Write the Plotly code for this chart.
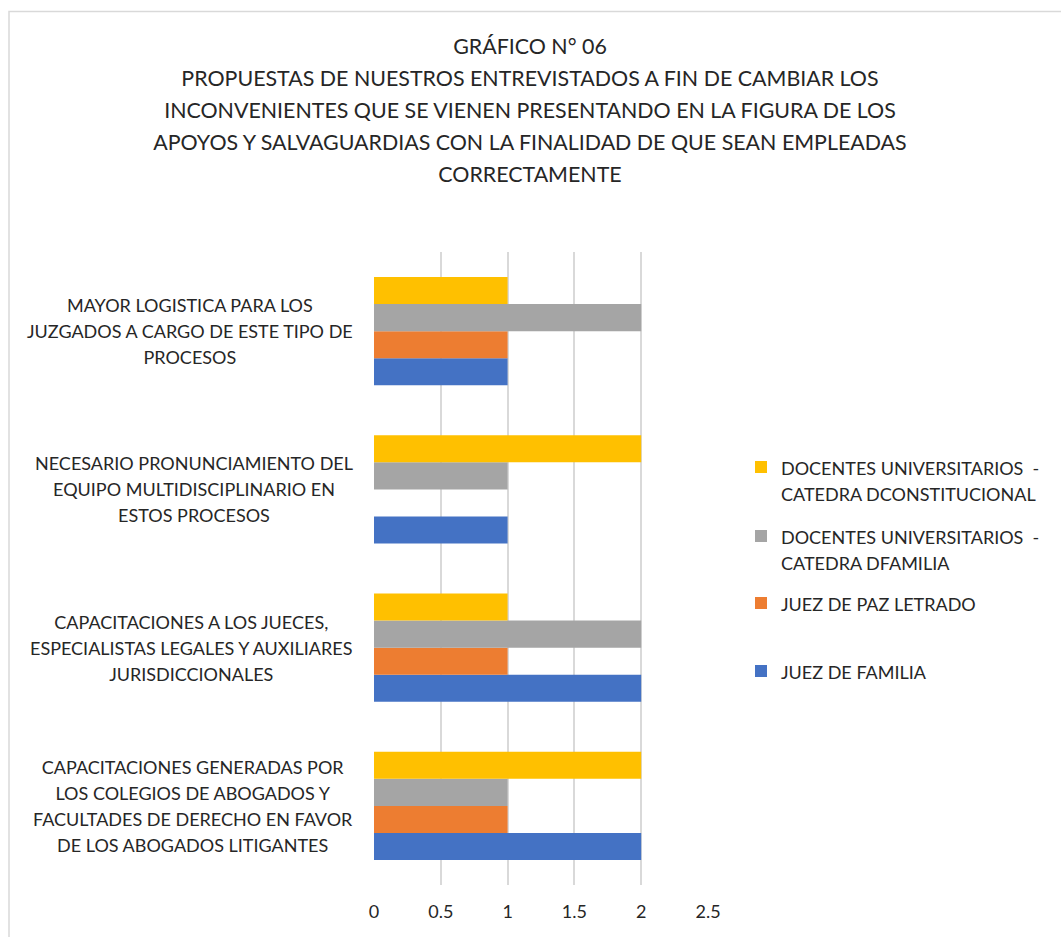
import plotly.graph_objects as go

FONT = "Lato"
TXT = "#262626"

# categories bottom -> top
categories = [
    "CAPACITACIONES GENERADAS POR<br>LOS COLEGIOS DE ABOGADOS Y<br>FACULTADES DE DERECHO EN FAVOR<br>DE LOS ABOGADOS LITIGANTES",
    "CAPACITACIONES A LOS JUECES,<br>ESPECIALISTAS LEGALES Y AUXILIARES<br>JURISDICCIONALES",
    "NECESARIO PRONUNCIAMIENTO DEL<br>EQUIPO MULTIDISCIPLINARIO EN<br>ESTOS PROCESOS",
    "MAYOR LOGISTICA PARA LOS<br>JUZGADOS A CARGO DE ESTE TIPO DE<br>PROCESOS",
]

series_names = [
    "JUEZ DE FAMILIA",
    "JUEZ DE PAZ LETRADO",
    "DOCENTES UNIVERSITARIOS  -<br>CATEDRA DFAMILIA",
    "DOCENTES UNIVERSITARIOS  -<br>CATEDRA DCONSTITUCIONAL",
]
juez_familia = [2, 2, 1, 1]
juez_paz = [1, 1, 0, 1]
docentes_familia = [1, 2, 1, 2]
docentes_constitucional = [2, 1, 2, 1]
series_values = [juez_familia, juez_paz, docentes_familia, docentes_constitucional]
colors = ["#4472C4", "#ED7D31", "#A5A5A5", "#FFC000"]

x_ticks = [0, 0.5, 1, 1.5, 2, 2.5]
x_tick_labels = ["0", "0.5", "1", "1.5", "2", "2.5"]

title_lines = [
    "GRÁFICO N° 06",
    "PROPUESTAS DE NUESTROS ENTREVISTADOS A FIN DE CAMBIAR LOS",
    "INCONVENIENTES QUE SE VIENEN PRESENTANDO EN LA FIGURA DE LOS",
    "APOYOS Y SALVAGUARDIAS CON LA FINALIDAD DE QUE SEAN EMPLEADAS",
    "CORRECTAMENTE",
]


def sized(text, size):
    return "<br>".join(f"<span style='font-size:{size}px'>{t}</span>" for t in text.split("<br>"))


W, H = 1061, 937
L, R, T, B = 374, 353, 252, 52
pw, ph = W - L - R, H - T - B


def px_x(p):
    return (p - L) / pw


def px_y(p):
    return (H - B - p) / ph


legend_ids = ["legend4", "legend3", "legend2", "legend"]
legend_centers = [671, 603, 549, 480]

fig = go.Figure()
for name, vals, col, lid in zip(series_names, series_values, colors, legend_ids):
    fig.add_trace(go.Bar(
        y=categories, x=vals, orientation="h", name=sized(name, 18),
        marker=dict(color=col, line=dict(width=0)), legend=lid, showlegend=True,
    ))

legend_common = dict(
    x=px_x(741), xanchor="left", yanchor="middle", valign="top",
    font=dict(family=FONT, size=20, color=TXT), bgcolor="rgba(0,0,0,0)",
)
legend_layout = {}
for lid, cy in zip(legend_ids, legend_centers):
    legend_layout[lid] = dict(legend_common, y=px_y(cy))

annotations = [
    dict(text=sized(c, 18), x=px_x(355), xref="paper", y=c, yref="y",
         xanchor="right", yanchor="middle", align="center", showarrow=False,
         font=dict(family=FONT, size=20, color=TXT))
    for c in categories
]

fig.update_layout(
    width=W, height=H,
    margin=dict(l=L, r=R, t=T, b=B),
    paper_bgcolor="white", plot_bgcolor="white",
    showlegend=True,
    barmode="group", bargap=0.316, bargroupgap=0,
    title=dict(
        text="<br>".join(f"<span style='font-size:21.4px'>{t}</span>" for t in title_lines),
        x=0.4995, xref="container", xanchor="center",
        y=1 - 54 / H, yref="container", yanchor="middle",
        font=dict(family=FONT, size=24.6, color=TXT),
    ),
    xaxis=dict(
        range=[0, 2.5], tickvals=x_ticks, ticktext=x_tick_labels,
        showgrid=True, gridcolor="#d9d9d9", gridwidth=1.5,
        zeroline=False, showline=False, ticks="", ticklabelstandoff=14,
        tickfont=dict(family=FONT, size=18, color=TXT),
    ),
    yaxis=dict(
        type="category", showticklabels=False, showgrid=False,
        zeroline=False, showline=False, ticks="",
    ),
    annotations=annotations,
    shapes=[dict(
        type="rect", xref="paper", yref="paper",
        x0=px_x(9), x1=px_x(1075), y0=px_y(950), y1=px_y(11.5),
        line=dict(color="#d9d9d9", width=1.5), fillcolor="rgba(0,0,0,0)", layer="below",
    )],
    **legend_layout,
)

fig.write_html("out.html", config={"displayModeBar": False},
               post_script="document.body.style.margin='0';")
